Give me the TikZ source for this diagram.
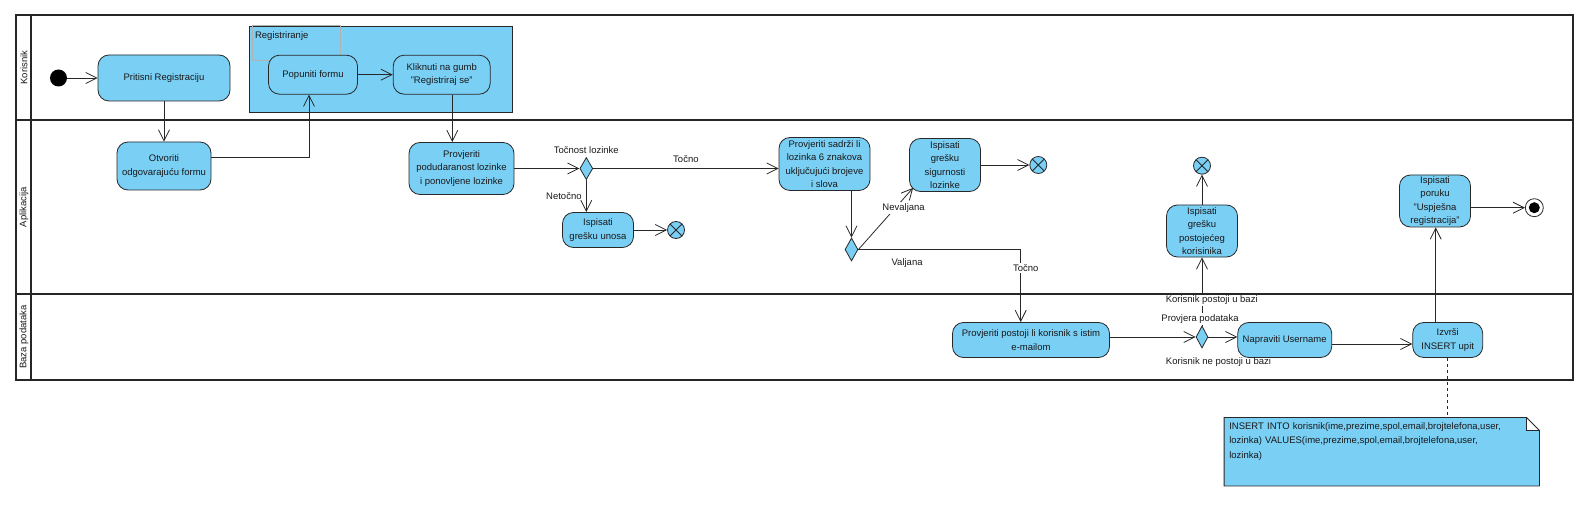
\documentclass[tikz,border=0pt]{standalone}
\usepackage{fontspec}
\setmainfont{Liberation Sans}
\usepackage{tikz}
\usetikzlibrary{arrows.meta}
\usetikzlibrary{shapes.geometric}
\definecolor{actblue}{RGB}{122,207,245}
\definecolor{edgegray}{RGB}{40,40,40}

\begin{document}
\begin{tikzpicture}[x=1pt,y=-1pt,font=\fontsize{9.5}{13.3}\selectfont,text=black!90]
  \tikzset{
    act/.style={draw=edgegray, fill=actblue, rectangle, rounded corners=11pt, align=center, inner sep=1pt, line width=0.8pt},
    dec/.style={draw=edgegray, fill=actblue, diamond, minimum width=13pt, minimum height=22pt, inner sep=0pt, line width=0.8pt},
    init/.style={circle, fill=black, minimum size=17pt, inner sep=0pt},
    flowend/.style={circle, draw=edgegray, fill=actblue, minimum size=17pt, inner sep=0pt, line width=0.8pt,
      path picture={\draw[edgegray, line width=0.8pt] (path picture bounding box.south west) -- (path picture bounding box.north east)
        (path picture bounding box.north west) -- (path picture bounding box.south east);}},
    actend/.style={circle, draw=edgegray, fill=white, minimum size=18pt, inner sep=0pt, line width=0.8pt,
      path picture={\fill[black] (path picture bounding box.center) circle (5.5pt);}},
    region/.style={draw=edgegray, fill=actblue, rectangle, line width=0.8pt},
    regtitle/.style={draw=gray!60, rectangle, line width=0.5pt},
    notebox/.style={fill=actblue, rectangle},
    guard/.style={inner sep=1.5pt, fill=white},
    line/.style={draw=edgegray, line width=0.8pt, -{Straight Barb[length=11pt,width=11pt]}},
    lane/.style={draw=black!85, line width=1.6pt},
  }
  \useasboundingbox (0,0) rectangle (1593,505);

  % Korisnik
  \node [act, minimum width=132pt, minimum height=46pt] (pritisni) at (164,78) {Pritisni Registraciju};
  \node [init, left of=pritisni, node distance=105.5pt] (start) {};
  \node [region, minimum width=263.4pt, minimum height=85.6pt] (registriranje) at (381,69.5) {};
  \node [regtitle, anchor=north west, minimum width=88.4pt, minimum height=34.3pt] (regtitle) at ([xshift=3pt,yshift=1pt]registriranje.north west) {};
  \node [anchor=north west, inner sep=0pt] (regtext) at ([xshift=3pt,yshift=-6.5pt]regtitle.north west) {Registriranje};
  \node [act, minimum width=89pt, minimum height=39pt] (popuniti) at (313,74.7) {Popuniti formu};
  \node [act, minimum width=97pt, minimum height=39pt, right of=popuniti, node distance=128.7pt] (kliknuti) {Kliknuti na gumb\\"Registriraj se"};

  % Aplikacija
  \node [act, minimum width=94pt, minimum height=48pt, below of=pritisni, node distance=88pt] (otvoriti) {Otvoriti\\odgovarajuću formu};
  \node [act, minimum width=105pt, minimum height=52pt] (podudaranost) at (461.5,168.5) {Provjeriti\\podudaranost lozinke\\i ponovljene lozinke};
  \node [dec, right of=podudaranost, node distance=124.8pt, label={[label distance=0pt]above:Točnost lozinke}] (tocnost) {};
  \node [act, minimum width=91pt, minimum height=53pt] (sadrzi) at (824.5,164) {Provjeriti sadrži li\\lozinka 6 znakova\\uključujući brojeve\\i slova};
  \node [act, minimum width=71pt, minimum height=35pt] (greskaunosa) at (598,230) {Ispisati\\grešku unosa};
  \node [flowend, right of=greskaunosa, node distance=78pt] (krajunosa) {};
  \node [dec, minimum height=23pt] (valjanost) at (851.5,249.5) {};
  \node [act, minimum width=71pt, minimum height=53pt] (greskasig) at (945,165) {Ispisati\\grešku\\sigurnosti\\lozinke};
  \node [flowend, right of=greskasig, node distance=93.3pt] (krajsig) {};
  \node [act, minimum width=71pt, minimum height=52pt] (greskapost) at (1202,231) {Ispisati\\grešku\\postojećeg\\korisinika};
  \node [flowend, above of=greskapost, node distance=65.3pt] (krajpost) {};
  \node [act, minimum width=71pt, minimum height=52pt] (poruka) at (1435,201) {Ispisati\\poruku\\"Uspješna\\registracija"};
  \node [actend] (kraj) at (1534.3,207.7) {};

  % Baza podataka
  \node [act, minimum width=157pt, minimum height=35pt] (postoji) at (1031,340) {Provjeriti postoji li korisnik s istim\\e-mailom};
  \node [dec, minimum width=12pt] (provjera) at (1202,337) {};
  \node [act, minimum width=94pt, minimum height=35pt, right of=postoji, node distance=253.7pt] (napravi) {Napraviti Username};
  \node [act, minimum width=70pt, minimum height=35pt, right of=napravi, node distance=163pt] (izvrsi) {Izvrši\\INSERT upit};

  % note
  \node [notebox, minimum width=315pt, minimum height=68pt] (note) at (1381.8,451.7) {};
  \fill [white] ([xshift=-13pt]note.north east) rectangle ([yshift=-13pt]note.north east);
  \draw [edgegray, line width=0.8pt] (note.north west) -- ([xshift=-13pt]note.north east) -- ([yshift=-13pt]note.north east)
    -- (note.south east) -- (note.south west) -- cycle;
  \draw [edgegray, line width=0.8pt] ([xshift=-13pt]note.north east) |- ([yshift=-13pt]note.north east);
  \node [anchor=north west, align=left, inner sep=0pt, text width=305pt, font=\fontsize{9.5}{14.3}\selectfont] (notetext)
    at ([xshift=5pt,yshift=-5pt]note.north west)
    {INSERT INTO korisnik(ime,prezime,spol,email,brojtelefona,user,\\lozinka) VALUES(ime,prezime,spol,email,brojtelefona,user,\\lozinka)};

  % flows
  \path [line] (start)--(pritisni);
  \path [line] (pritisni)--(otvoriti);
  \path [line] ([yshift=8.7pt]otvoriti.east) -| ([xshift=-4pt]popuniti.south);
  \path [line] (popuniti)--(kliknuti);
  \path [line] ([xshift=10.6pt]kliknuti.south) -- ([xshift=10.6pt]kliknuti.south |- podudaranost.north);
  \path [line] (podudaranost)--(tocnost);
  \path [line] (tocnost.east) -- (tocnost.east -| sadrzi.west) node [midway, above=2pt] (lbltocno) {Točno};
  \path [line] (tocnost.south) -- (tocnost.south |- greskaunosa.north) node [midway, left=1pt] (lblnetocno) {Netočno};
  \path [line] (greskaunosa)--(krajunosa);
  \path [line] ([xshift=27pt]sadrzi.south) -- (valjanost.north);
  \path [line] (valjanost.east) -- ([xshift=4pt,yshift=4pt]greskasig.south west) node [pos=0.68, guard, xshift=8pt] (lblnevaljana) {Nevaljana};
  \path [line] (greskasig)--(krajsig);
  \path [line] (valjanost.east) -| ([xshift=-10.3pt]postoji.north)
    node [pos=0.15, below=5pt] (lblvaljana) {Valjana}
    node [pos=0.63, guard, xshift=5pt] (lbltocnodva) {Točno};
  \path [line] (postoji.east |- provjera.west) -- (provjera.west);
  \path [line] (provjera.east) -- (provjera.east -| napravi.west) node [pos=0.35, below=17pt] (lblnepostoji) {Korisnik ne postoji u bazi};
  \path [line] (provjera.north) -- (provjera.north |- greskapost.south)
    node [pos=0, above, guard, xshift=-2pt] (lblprovjera) {Provjera podataka}
    node [pos=0.38, guard, xshift=9.7pt] (lblpostoji) {Korisnik postoji u bazi};
  \path [line] (greskapost)--(krajpost);
  \path [line] ([yshift=-4pt]napravi.east) -- ([yshift=-4pt]izvrsi.west);
  \path [line] ([xshift=-12pt]izvrsi.north) -- ([xshift=-12pt]izvrsi.north |- poruka.south);
  \path [line] (poruka.east |- kraj) -- (kraj);
  \draw [edgegray, line width=0.8pt, dashed] (izvrsi.south) -- (izvrsi.south |- note.north);

  % lanes
  \draw [lane] (16,15) rectangle (1573,380);
  \draw [lane] (31,15) -- (31,380);
  \draw [lane] (16,120) -- (1573,120);
  \draw [lane] (16,294) -- (1573,294);
  \node [rotate=90] (korisnik) at (24,67.5) {Korisnik};
  \node [rotate=90] (aplikacija) at (24,207) {Aplikacija};
  \node [rotate=90] (baza) at (24,337) {Baza podataka};
\end{tikzpicture}
\end{document}
